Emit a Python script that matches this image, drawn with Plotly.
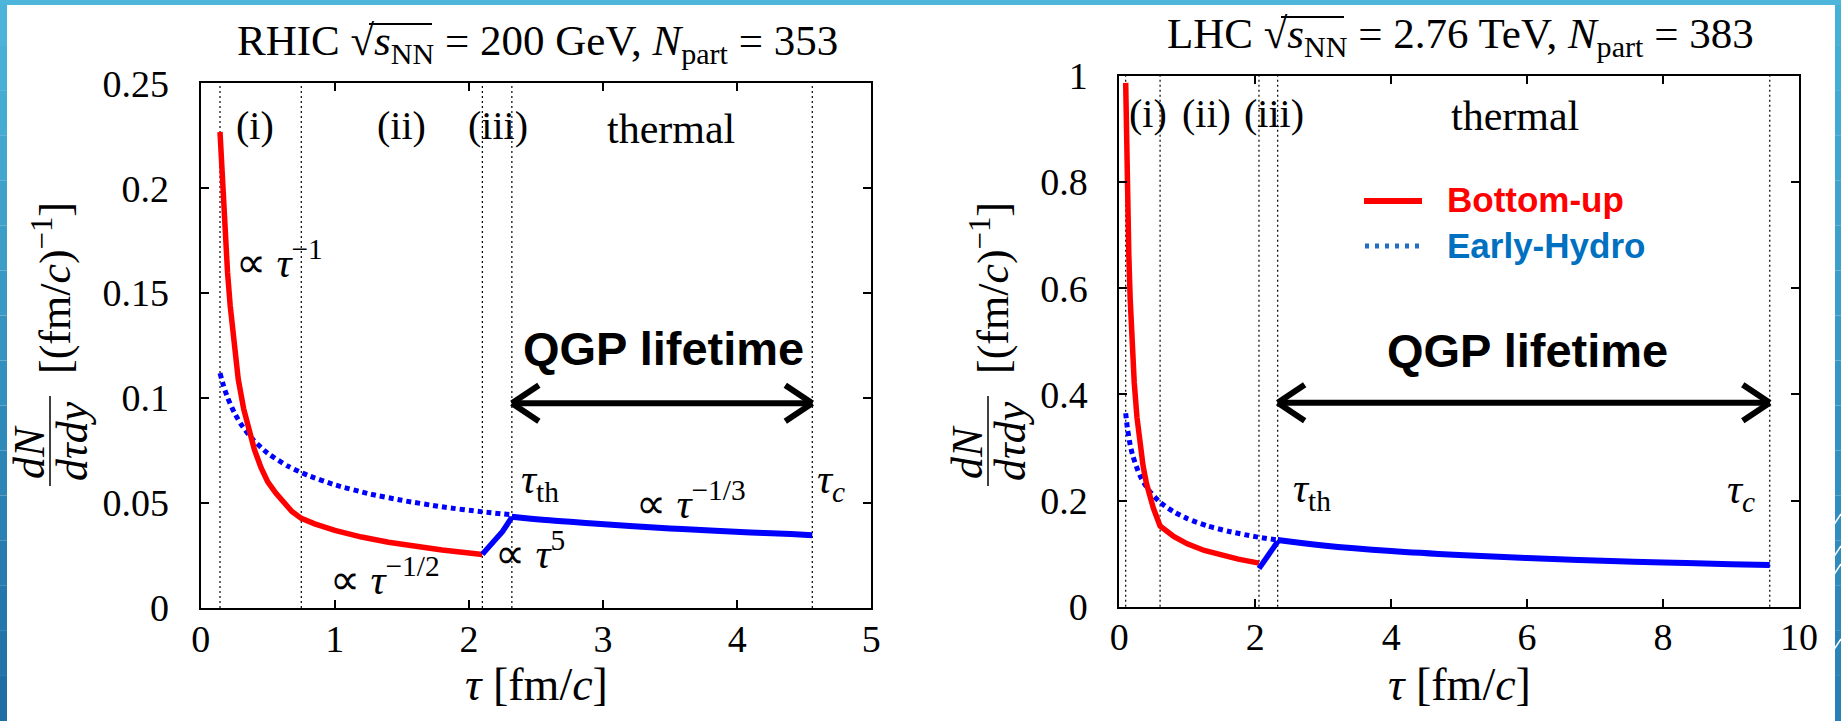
import plotly.graph_objects as go

W, H = 1841, 721

# ---------------- DATA ----------------
# RHIC panel
rhic_bu_tau = [0.144, 0.16, 0.18, 0.20, 0.22, 0.25, 0.28, 0.32, 0.36, 0.40, 0.45, 0.50, 0.56, 0.62, 0.68, 0.75,
               0.85, 1.0, 1.2, 1.4, 1.6, 1.8, 2.0, 2.1]
rhic_bu_val = [0.2268, 0.2035, 0.180, 0.160, 0.144, 0.124, 0.109, 0.095, 0.084, 0.0755, 0.0668, 0.0601, 0.0548,
               0.0500, 0.0460, 0.0427, 0.0401, 0.0370, 0.0338, 0.0313, 0.0292, 0.0276, 0.0262, 0.0255]
rhic_iii_tau = [2.1, 2.15, 2.2, 2.25, 2.32]
rhic_iii_val = [0.0256, 0.0290, 0.0325, 0.0364, 0.0432]
rhic_th_tau = [2.32, 2.6, 2.9, 3.2, 3.5, 3.8, 4.1, 4.4, 4.56]
rhic_th_val = [0.0435, 0.0418, 0.0404, 0.0391, 0.0379, 0.0369, 0.0360, 0.0352, 0.0347]
rhic_eh_tau = [0.144, 0.17, 0.2, 0.25, 0.3, 0.38, 0.5, 0.65, 0.8, 1.0, 1.25, 1.5, 1.8, 2.1, 2.32]
rhic_eh_val = [0.1119, 0.1059, 0.1003, 0.0932, 0.0876, 0.0809, 0.0737, 0.0676, 0.0632, 0.0587, 0.0545,
               0.0513, 0.0482, 0.0458, 0.0444]
rhic_marks = [0.144, 0.75, 2.1, 2.32, 4.56]
rhic_arrow_y = 0.0975

# LHC panel
lhc_bu_tau = [0.094, 0.105, 0.12, 0.14, 0.16, 0.19, 0.22, 0.26, 0.3, 0.35, 0.4, 0.45, 0.5, 0.55, 0.6,
              0.8, 1.0, 1.25, 1.5, 1.75, 2.055]
lhc_bu_val = [0.987, 0.884, 0.773, 0.663, 0.580, 0.488, 0.422, 0.357, 0.309, 0.265, 0.232, 0.206, 0.186,
              0.169, 0.152, 0.1325, 0.1185, 0.106, 0.0968, 0.0896, 0.0821]
lhc_iii_tau = [2.055, 2.12, 2.19, 2.26, 2.33]
lhc_iii_val = [0.072, 0.083, 0.095, 0.108, 0.1225]
lhc_th_tau = [2.33, 3, 4, 5, 6, 7, 8, 9, 9.57]
lhc_th_val = [0.1256, 0.1155, 0.1049, 0.0974, 0.0917, 0.0871, 0.0833, 0.0800, 0.0785]
lhc_eh_tau = [0.094, 0.12, 0.16, 0.2, 0.3, 0.43, 0.6, 0.8, 1.0, 1.3, 1.6, 2.0, 2.33]
lhc_eh_val = [0.3644, 0.3357, 0.3049, 0.2838, 0.2481, 0.2200, 0.1968, 0.1788, 0.1660, 0.1520, 0.1422,
              0.1320, 0.1255]
lhc_marks = [0.094, 0.6, 2.055, 2.33, 9.57]
lhc_arrow_y = 0.3844

rhic_xticks = [0, 1, 2, 3, 4, 5]
rhic_yticks = [0, 0.05, 0.1, 0.15, 0.2, 0.25]
rhic_ytext = ["0", "0.05", "0.1", "0.15", "0.2", "0.25"]
lhc_xticks = [0, 2, 4, 6, 8, 10]
lhc_yticks = [0, 0.2, 0.4, 0.6, 0.8, 1.0]
lhc_ytext = ["0", "0.2", "0.4", "0.6", "0.8", "1"]

RED = "#ff0000"
BLUE = "#0000ff"
SERIF = "Liberation Serif"

def px(x):
    return x / W

def py(y):
    return 1 - y / H

fig = go.Figure()

def add_panel(xa, ya, bu_t, bu_v, iii_t, iii_v, th_t, th_v, eh_t, eh_v):
    fig.add_trace(go.Scatter(x=eh_t, y=eh_v, xaxis=xa, yaxis=ya, mode="lines",
                             line=dict(color=BLUE, width=5, dash="5px,4px", shape="spline", smoothing=0.6),
                             showlegend=False, hoverinfo="skip"))
    fig.add_trace(go.Scatter(x=bu_t, y=bu_v, xaxis=xa, yaxis=ya, mode="lines",
                             line=dict(color=RED, width=5.5), showlegend=False, hoverinfo="skip"))
    fig.add_trace(go.Scatter(x=iii_t, y=iii_v, xaxis=xa, yaxis=ya, mode="lines",
                             line=dict(color=BLUE, width=5.5), showlegend=False, hoverinfo="skip"))
    fig.add_trace(go.Scatter(x=th_t, y=th_v, xaxis=xa, yaxis=ya, mode="lines",
                             line=dict(color=BLUE, width=6, shape="spline"), showlegend=False, hoverinfo="skip"))

add_panel("x", "y", rhic_bu_tau, rhic_bu_val, rhic_iii_tau, rhic_iii_val, rhic_th_tau, rhic_th_val,
          rhic_eh_tau, rhic_eh_val)
add_panel("x2", "y2", lhc_bu_tau, lhc_bu_val, lhc_iii_tau, lhc_iii_val, lhc_th_tau, lhc_th_val,
          lhc_eh_tau, lhc_eh_val)

shapes = []
# vertical dotted region markers
for xr, yr, marks in [("x", "y", rhic_marks), ("x2", "y2", lhc_marks)]:
    for m in marks:
        shapes.append(dict(type="line", xref=xr, yref=yr + " domain", x0=m, x1=m, y0=0, y1=1,
                           line=dict(color="black", width=1.2, dash="2px,3px"), layer="below"))

# QGP lifetime arrows
for xr, yr, marks, ay in [("x", "y", rhic_marks, rhic_arrow_y), ("x2", "y2", lhc_marks, lhc_arrow_y)]:
    t0, t1 = marks[3], marks[4]
    shapes.append(dict(type="line", xref=xr, yref=yr, x0=t0, x1=t1, y0=ay, y1=ay,
                       line=dict(color="black", width=6)))
    for anchor, dx in [(t0, 27), (t1, -27)]:
        for dy in (18, -18):
            shapes.append(dict(type="line", xref=xr, yref=yr, xsizemode="pixel", ysizemode="pixel",
                               xanchor=anchor, yanchor=ay, x0=0, x1=dx, y0=0, y1=dy,
                               line=dict(color="black", width=6)))

# slide decoration bands
N = 16
c_top = (75, 180, 216)
c_bot = (30, 110, 165)
c2_top = (70, 176, 214)
c2_bot = (42, 128, 182)
for i in range(N):
    f = i / (N - 1)
    c = tuple(int(round(c_top[k] + (c_bot[k] - c_top[k]) * f)) for k in range(3))
    shapes.append(dict(type="rect", xref="paper", yref="paper", x0=0, x1=px(7),
                       y0=py(H * (i + 1) / N), y1=py(H * i / N), line=dict(width=0),
                       fillcolor="rgb(%d,%d,%d)" % c))
    c2 = tuple(int(round(c2_top[k] + (c2_bot[k] - c2_top[k]) * f)) for k in range(3))
    shapes.append(dict(type="rect", xref="paper", yref="paper", x0=px(1835), x1=1,
                       y0=py(H * (i + 1) / N), y1=py(H * i / N), line=dict(width=0),
                       fillcolor="rgb(%d,%d,%d)" % c2))
shapes.append(dict(type="rect", xref="paper", yref="paper", x0=0, x1=1, y0=py(5), y1=1,
                   line=dict(width=0), fillcolor="rgb(78,182,218)"))
for y0 in (520, 552, 570, 645):
    shapes.append(dict(type="line", xref="paper", yref="paper", x0=px(1833), x1=px(1841),
                       y0=py(y0 + 6), y1=py(y0 - 6), line=dict(color="white", width=1.5)))

# y-title fraction bars
for xb in (50, 988):
    shapes.append(dict(type="line", xref="paper", yref="paper", x0=px(xb), x1=px(xb),
                       y0=py(486), y1=py(396), line=dict(color="black", width=1.5)))

# square-root overlines in the titles
for x0, x1, yy in [(369, 432, 24), (1281, 1344, 17)]:
    shapes.append(dict(type="line", xref="paper", yref="paper", x0=px(x0), x1=px(x1), y0=py(yy), y1=py(yy),
                       line=dict(color="black", width=1.8)))

# legend lines
shapes.append(dict(type="line", xref="paper", yref="paper", x0=px(1364), x1=px(1422), y0=py(201), y1=py(201),
                   line=dict(color=RED, width=6)))
shapes.append(dict(type="line", xref="paper", yref="paper", x0=px(1365), x1=px(1422), y0=py(246), y1=py(246),
                   line=dict(color="#1f6fc4", width=5, dash="4px,6px")))

ann = []

def txt(text, x, y, xref="paper", yref="paper", size=40, xanchor="center", yanchor="middle",
        family=SERIF, color="black", angle=0, bold=False):
    ann.append(dict(text=text, x=x, y=y, xref=xref, yref=yref, showarrow=False, xanchor=xanchor,
                    yanchor=yanchor, textangle=angle,
                    font=dict(family=family, size=size, color=color, weight=700 if bold else 400)))

# titles
txt("RHIC √<i>s</i><sub>NN</sub> = 200 GeV, <i>N</i><sub>part</sub> = 353", px(537), py(44), size=43)
txt("LHC √<i>s</i><sub>NN</sub> = 2.76 TeV, <i>N</i><sub>part</sub> = 383", px(1460), py(37), size=43)

# axis titles
for cx in (536, 1459):
    txt("<i>τ</i> [fm/<i>c</i>]", px(cx), py(684), size=46)
for xn, xd, xb in [(29, 73, 52), (967, 1011, 990)]:
    txt("<i>dN</i>", px(xn), py(452), size=44, angle=-90)
    txt("<i>dτdy</i>", px(xd), py(441), size=44, angle=-90)
    txt("[(fm/<i>c</i>)<sup>−1</sup>]", px(xb), py(288), size=44, angle=-90)

# left panel labels (data coords)
txt("(i)", 0.405, 0.230, "x", "y")
txt("(ii)", 1.5, 0.230, "x", "y")
txt("(iii)", 2.214, 0.230, "x", "y")
txt("thermal", 3.51, 0.228, "x", "y", size=42)
txt("∝ <i>τ</i><sup>−1</sup>", 0.25, 0.166, "x", "y", xanchor="left", size=42)
txt("∝ <i>τ</i><sup>−1/2</sup>", 0.95, 0.0148, "x", "y", xanchor="left", size=42)
txt("∝ <i>τ</i><sup>5</sup>", 2.18, 0.0275, "x", "y", xanchor="left", size=42)
txt("∝ <i>τ</i><sup>−1/3</sup>", 3.228, 0.051, "x", "y", xanchor="left", size=42)
txt("<i>τ</i><sub>th</sub>", 2.373, 0.060, "x", "y", xanchor="left", size=42)
txt("<i>τ</i><sub><i>c</i></sub>", 4.58, 0.060, "x", "y", xanchor="left", size=42)
txt("QGP lifetime", 3.45, 0.1235, "x", "y", size=47, family="Liberation Sans", bold=True)

# right panel labels
txt("(i)", 0.415, 0.93, "x2", "y2")
txt("(ii)", 1.286, 0.93, "x2", "y2")
txt("(iii)", 2.276, 0.93, "x2", "y2")
txt("thermal", 5.82, 0.924, "x2", "y2", size=42)
txt("<i>τ</i><sub>th</sub>", 2.52, 0.218, "x2", "y2", xanchor="left", size=42)
txt("<i>τ</i><sub><i>c</i></sub>", 8.91, 0.216, "x2", "y2", xanchor="left", size=42)
txt("QGP lifetime", 6.0, 0.483, "x2", "y2", size=47, family="Liberation Sans", bold=True)

# legend text
txt("Bottom-up", px(1445), py(199), size=35, xanchor="left", family="Liberation Sans", color=RED, bold=True)
txt("Early-Hydro", px(1445), py(245), size=35, xanchor="left", family="Liberation Sans", color="#0070c0",
    bold=True)

axis_common = dict(showline=True, linecolor="black", linewidth=2, mirror="ticks", ticks="inside",
                   ticklen=8, tickwidth=1.5, tickcolor="black", showgrid=False, zeroline=False,
                   automargin=False,
                   tickfont=dict(family=SERIF, size=38, color="black"))

fig.update_layout(
    width=W, height=H, autosize=False,
    margin=dict(l=0, r=0, t=0, b=0, pad=0, autoexpand=False),
    paper_bgcolor="white", plot_bgcolor="white",
    xaxis=dict(domain=[px(200.7), px(871.3)], range=[0, 5], tickvals=rhic_xticks, anchor="y",
               ticklabelstandoff=-4, **axis_common),
    yaxis=dict(domain=[py(608), py(83.3)], range=[0, 0.25], tickvals=rhic_yticks, ticktext=rhic_ytext,
               anchor="x", ticklabelstandoff=22, **axis_common),
    xaxis2=dict(domain=[px(1119.3), px(1799)], range=[0, 10], tickvals=lhc_xticks, anchor="y2",
                ticklabelstandoff=-4, **axis_common),
    yaxis2=dict(domain=[py(606.7), py(76)], range=[0, 1], tickvals=lhc_yticks, ticktext=lhc_ytext,
                anchor="x2", ticklabelstandoff=22, **axis_common),
    shapes=shapes,
    annotations=ann,
)

fig.write_html(
    "out.html",
    config={"displayModeBar": False},
    post_script="document.body.style.margin='0';document.body.style.overflow='hidden';"
                "document.documentElement.style.overflow='hidden';",
)
